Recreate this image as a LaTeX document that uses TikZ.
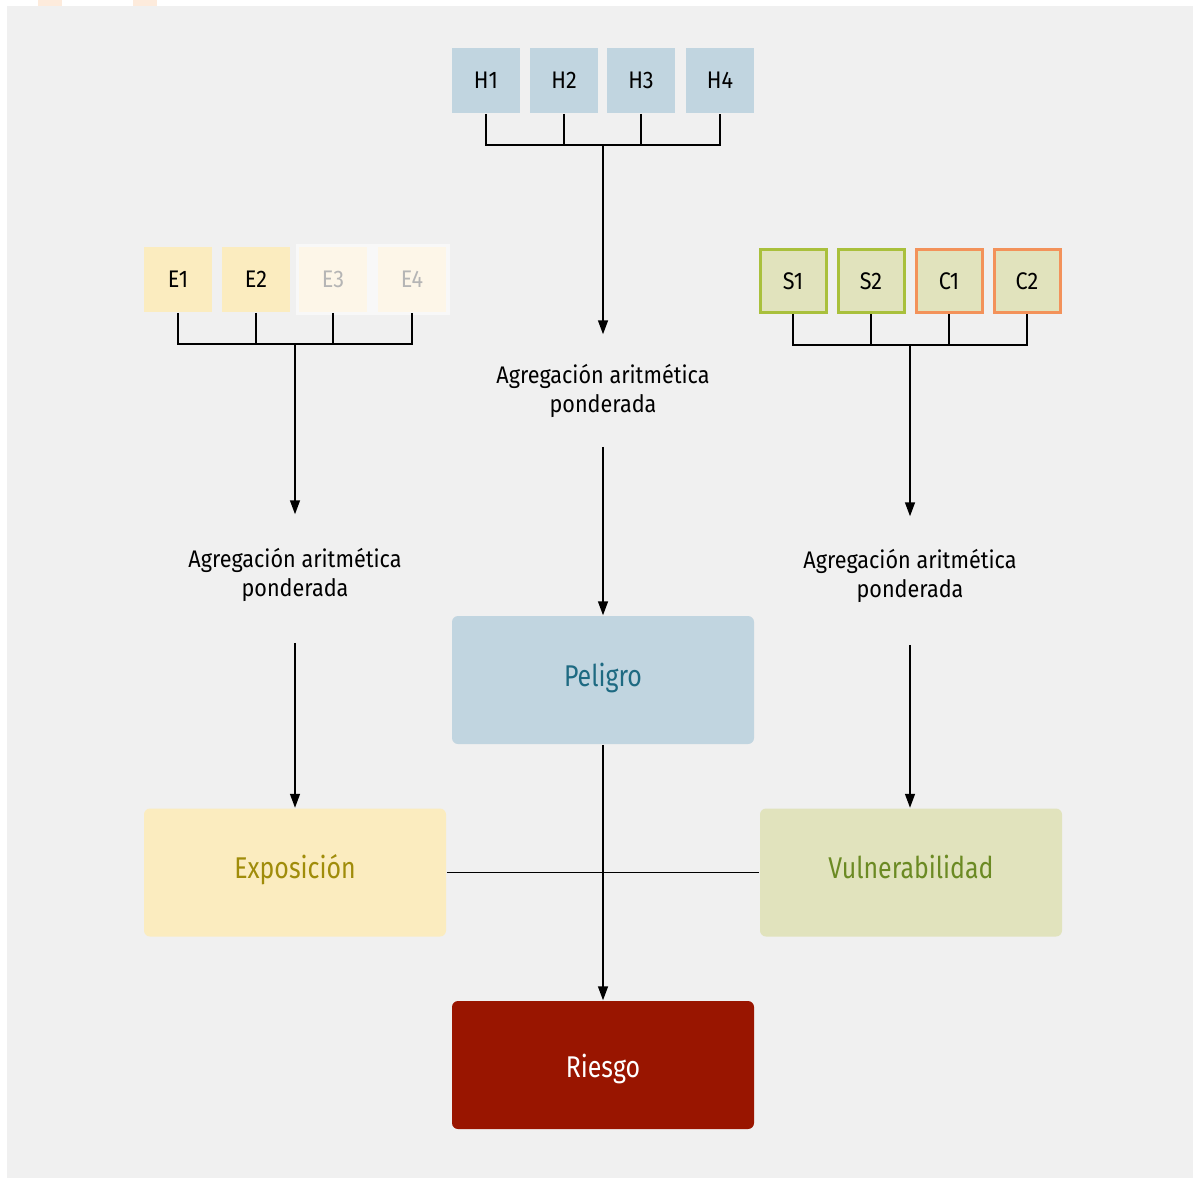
\documentclass[tikz,border=0pt]{standalone}
\usepackage{fontspec}
\setmainfont{Fira Sans}
\newfontfamily\narrowsf[FakeStretch=0.9]{Fira Sans}
\newfontfamily\dinsf[FakeStretch=0.83]{Fira Sans}
\usetikzlibrary{arrows.meta}

\definecolor{panel}{HTML}{F0F0F0}
\definecolor{hazblue}{HTML}{C1D5E0}
\definecolor{expyellow}{HTML}{FBECBF}
\definecolor{expfaded}{HTML}{FDF6E8}
\definecolor{fadebg}{HTML}{F8F8F8}
\definecolor{fadetext}{HTML}{B5B5B5}
\definecolor{vulgreen}{HTML}{E1E3BD}
\definecolor{sensline}{HTML}{A9C03C}
\definecolor{capline}{HTML}{F3925A}
\definecolor{pelitext}{HTML}{1E6A82}
\definecolor{expotext}{HTML}{A08C0A}
\definecolor{vulntext}{HTML}{6B8A23}
\definecolor{riskred}{HTML}{991500}
\definecolor{tabpeach}{HTML}{FDEBDC}

\tikzset{
  tile/.style={minimum width=34pt,minimum height=32.5pt,inner sep=0pt,
    font=\narrowsf\fontsize{12}{14}\selectfont},
  framed/.style={tile,fill=vulgreen,draw=#1,line width=1.5pt,
    minimum width=33pt,minimum height=31.5pt},
  bigbox/.style={rounded corners=3pt,minimum width=151pt,minimum height=64pt,
    inner sep=0pt,text height=8pt,text depth=2pt,
    font=\dinsf\fontsize{15}{17}\selectfont},
  aggtext/.style={align=center,inner sep=0pt,
    font=\narrowsf\fontsize{12}{14.5}\selectfont},
}

\begin{document}
\begin{tikzpicture}[x=0.5pt,y=-0.5pt,line width=0.75pt,
  arr/.style={-{Triangle[width=5pt,length=7pt]}}]
  % background
  \fill[white] (0,0) rectangle (1195,1178);
  \fill[tabpeach] (38,0) rectangle (62,6);
  \fill[tabpeach] (133,0) rectangle (157,6);
  \fill[panel] (7,6) rectangle (1193,1178);

  % hazard indicators
  \node[tile,fill=hazblue] (h1) at (486,80.5) {H1};
  \node[tile,fill=hazblue] (h2) at (564,80.5) {H2};
  \node[tile,fill=hazblue] (h3) at (641,80.5) {H3};
  \node[tile,fill=hazblue] (h4) at (720,80.5) {H4};
  \coordinate (hj) at (603,145);
  \draw (h1.south) -- (h1.south |- hj) -- (h4.south |- hj) -- (h4.south);
  \foreach \n in {h2,h3} \draw (\n.south) -- (\n.south |- hj);

  % exposure indicators
  \fill[fadebg] (296,244) rectangle (450,315);
  \node[tile,fill=expyellow] (e1) at (178,279.5) {E1};
  \node[tile,fill=expyellow] (e2) at (256,279.5) {E2};
  \node[tile,fill=expfaded,text=fadetext] (e3) at (333,279.5) {E3};
  \node[tile,fill=expfaded,text=fadetext] (e4) at (412,279.5) {E4};
  \coordinate (ej) at (295,344);
  \draw (e1.south) -- (e1.south |- ej) -- (e4.south |- ej) -- (e4.south);
  \foreach \n in {e2,e3} \draw (\n.south) -- (\n.south |- ej);

  % vulnerability indicators
  \node[framed=sensline] (s1) at (793,281) {S1};
  \node[framed=sensline] (s2) at (871,281) {S2};
  \node[framed=capline] (c1) at (949,281) {C1};
  \node[framed=capline] (c2) at (1027,281) {C2};
  \coordinate (vj) at (910,345);
  \draw (s1.south) -- (s1.south |- vj) -- (c2.south |- vj) -- (c2.south);
  \foreach \n in {s2,c1} \draw (\n.south) -- (\n.south |- vj);

  % aggregation steps
  \node[aggtext,minimum height=55.5pt] (aggh) at (603,390.5) {Agregación aritmética\\ponderada};
  \node[aggtext,minimum height=59.5pt] (agge) at (295,574.5) {Agregación aritmética\\ponderada};
  \node[aggtext,minimum height=58.5pt] (aggv) at (910,575.5) {Agregación aritmética\\ponderada};

  % components
  \node[bigbox,fill=hazblue,text=pelitext] (peligro) at (603,680) {Peligro};
  \node[bigbox,fill=expyellow,text=expotext] (expo) at (295,872.5) {Exposición};
  \node[bigbox,fill=vulgreen,text=vulntext] (vuln) at (911,872.5) {Vulnerabilidad};
  \node[bigbox,fill=riskred,text=white,text height=13pt,text depth=1pt] (riesgo) at (603,1065) {Riesgo};

  \draw[arr] (hj) -- (aggh.north);
  \draw[arr] (aggh.south) -- (peligro.north);
  \draw[arr] (ej) -- (agge.north);
  \draw[arr,shorten <=4pt] (agge.south) -- (expo.north);
  \draw[arr] (vj) -- (aggv.north);
  \draw[arr,shorten <=5pt] (aggv.south) -- (aggv.south |- vuln.north);
  \draw (expo.east) -- (vuln.west);
  \draw[arr] (peligro.south) -- (riesgo.north);
\end{tikzpicture}
\end{document}
